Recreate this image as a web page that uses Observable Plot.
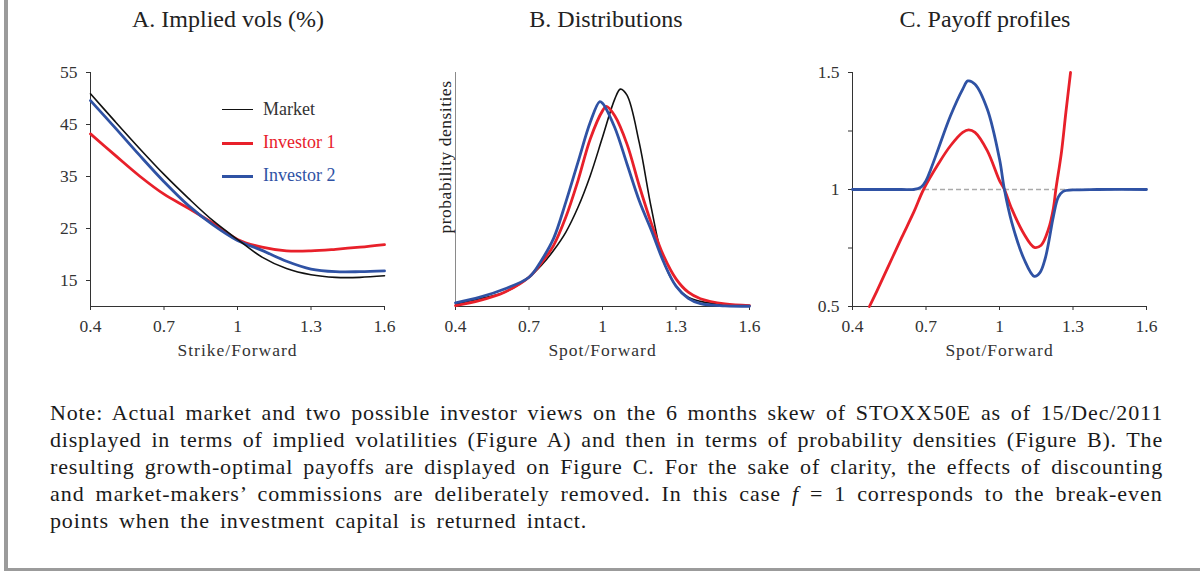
<!DOCTYPE html>
<html>
<head>
<meta charset="utf-8">
<script src="https://cdn.jsdelivr.net/npm/d3@7"></script>
<script src="https://cdn.jsdelivr.net/npm/@observablehq/plot@0.6"></script>
<style>
  html, body { margin: 0; padding: 0; background: #fff; }
  #fig { position: relative; width: 1200px; height: 571px; background: #fff; overflow: hidden;
         font-family: "Liberation Serif", "DejaVu Serif", serif; color: #222; }
  .bl { position: absolute; left: 4px; top: 0; width: 4px; height: 571px; background: #9b9b9b; }
  .bb { position: absolute; left: 4px; top: 568px; width: 1196px; height: 3px; background: #9b9b9b; }
  .title { position: absolute; top: 6px; font-size: 24px; transform: translateX(-50%); white-space: nowrap; color: #222; }
  .panel { position: absolute; top: 40px; }
  .panel svg g[aria-label="x-axis label"] text { letter-spacing: 1px; }
  .ylab { position: absolute; font-size: 17.5px; white-space: nowrap; transform: translate(-50%, -50%) rotate(-90deg); color: #222; letter-spacing: 0.5px; }
  .leg { position: absolute; font-size: 18px; white-space: nowrap; }
  .legline { position: absolute; height: 0; }
  #note { position: absolute; left: 50px; top: 399px; width: 1113px; font-family: "Liberation Serif", serif; font-size: 22px; line-height: 27px; color: #1a1a1a; }
  #note .ln { display: block; white-space: nowrap; }
  #note .ln span { white-space: nowrap; font-family: "Liberation Serif", serif; }
</style>
</head>
<body>
<div id="fig">
  <div class="bl"></div>
  <div class="bb"></div>
  <div class="title" style="left:228px">A. Implied vols (%)</div>
  <div class="title" style="left:606px">B. Distributions</div>
  <div class="title" style="left:985px">C. Payoff profiles</div>
  <div id="pA" class="panel" style="left:0px"></div>
  <div id="pB" class="panel" style="left:400px"></div>
  <div id="pC" class="panel" style="left:790px"></div>
  <div class="ylab" style="left:445px; top:157px">probability densities</div>
  <div id="legend"></div>
  <div id="note"></div>
</div>
<script>
// ---------- Data ----------
const xTicks = [0.4, 0.7, 1, 1.3, 1.6];
const yTicksA = [15, 25, 35, 45, 55];
const yTicksC = [0.5, 0.75, 1, 1.25, 1.5];
const yLabelsC = ["0.5", "", "1", "", "1.5"];

const seriesNames = ["Market", "Investor 1", "Investor 2"];
const seriesColors = ["#111111", "#e8202a", "#2f52a4"];

// Panel A: implied vols (%) vs Strike/Forward
const strikeA = [0.4, 0.5, 0.6, 0.7, 0.8, 0.9, 1.0, 1.1, 1.2, 1.3, 1.4, 1.5, 1.6];
const volMarket = [50.9, 45.6, 40.4, 35.4, 30.8, 26.5, 22.9, 19.5, 17.3, 16.1, 15.6, 15.6, 15.9];
const volInv1   = [43.2, 39.1, 35.1, 31.6, 28.9, 26.0, 22.9, 21.4, 20.7, 20.7, 21.0, 21.4, 21.9];
const volInv2   = [49.6, 44.4, 39.1, 34.0, 29.4, 25.7, 22.7, 20.8, 18.7, 17.2, 16.7, 16.7, 16.85];

// Panel B: probability densities (relative) vs Spot/Forward
const densMarketX = [0.4, 0.5, 0.6, 0.7, 0.75, 0.8, 0.85, 0.9, 0.95, 1.0, 1.05, 1.073, 1.1, 1.15, 1.2, 1.25, 1.3, 1.35, 1.4, 1.5, 1.6];
const densMarketY = [0.011, 0.033, 0.061, 0.125, 0.175, 0.239, 0.317, 0.424, 0.559, 0.723, 0.886, 0.929, 0.903, 0.70, 0.417, 0.19, 0.088, 0.040, 0.022, 0.008, 0.004];
const densInv1X = [0.4, 0.5, 0.6, 0.7, 0.75, 0.8, 0.85, 0.9, 0.95, 1.0, 1.016, 1.05, 1.1, 1.15, 1.2, 1.25, 1.3, 1.35, 1.4, 1.5, 1.6];
const densInv1Y = [0.004, 0.026, 0.061, 0.125, 0.185, 0.26, 0.381, 0.538, 0.716, 0.836, 0.855, 0.815, 0.694, 0.516, 0.353, 0.215, 0.118, 0.061, 0.033, 0.011, 0.004];
const densInv2X = [0.4, 0.5, 0.6, 0.7, 0.75, 0.8, 0.85, 0.9, 0.95, 0.988, 1.0, 1.05, 1.1, 1.15, 1.2, 1.25, 1.3, 1.35, 1.4, 1.5, 1.6];
const densInv2Y = [0.016, 0.040, 0.075, 0.125, 0.196, 0.29, 0.445, 0.617, 0.787, 0.875, 0.869, 0.765, 0.609, 0.452, 0.324, 0.189, 0.087, 0.035, 0.012, 0.003, 0.001];

// Panel C: payoff profiles vs Spot/Forward
const breakEven = 1;
const payInv1X = [0.469, 0.5, 0.55, 0.6, 0.65, 0.69, 0.75, 0.8, 0.85, 0.874, 0.9, 0.95, 1.0, 1.02, 1.05, 1.1, 1.142, 1.17, 1.2, 1.22, 1.23, 1.253, 1.271, 1.29];
const payInv1Y = [0.5, 0.567, 0.68, 0.793, 0.903, 1.0, 1.109, 1.187, 1.244, 1.255, 1.244, 1.166, 1.038, 1.0, 0.917, 0.81, 0.753, 0.762, 0.831, 0.92, 1.0, 1.16, 1.33, 1.5];
const payInv2X = [0.4, 0.6, 0.65, 0.68, 0.7, 0.72, 0.75, 0.8, 0.85, 0.871, 0.9, 0.95, 1.0, 1.02, 1.05, 1.1, 1.142, 1.165, 1.186, 1.2, 1.22, 1.24, 1.26, 1.3, 1.4, 1.6];
const payInv2Y = [1.0, 1.0, 1.0, 1.01, 1.038, 1.088, 1.173, 1.315, 1.429, 1.464, 1.45, 1.344, 1.13, 1.0, 0.86, 0.703, 0.629, 0.645, 0.703, 0.77, 0.885, 0.967, 0.992, 0.998, 1.0, 1.0];

const noteLines = [
  "Note: Actual market and two possible investor views on the 6 months skew of STOXX50E as of 15/Dec/2011",
  "displayed in terms of implied volatilities (Figure A) and then in terms of probability densities (Figure B). The",
  "resulting growth-optimal payoffs are displayed on Figure C. For the sake of clarity, the effects of discounting",
  "and market-makers\u2019 commissions are deliberately removed.  In this case <i>f</i> = 1 corresponds to the break-even",
  "points when the investment capital is returned intact."
];

// ---------- Helpers ----------
const pts = (xs, ys) => xs.map((x, i) => ({x, y: ys[i]}));
const fmt = d => String(d);
const baseStyle = {fontFamily: "'Liberation Serif', 'DejaVu Serif', serif", fontSize: "17.5px", color: "#333", background: "transparent", overflow: "visible"};
const common = {width: 400, height: 330, marginTop: 32, marginBottom: 64};
const axX = (label) => Plot.axisX({ticks: xTicks, tickFormat: fmt, tickSize: 4, tickPadding: 9, fontSize: 17.5,
  label, labelAnchor: "center", labelOffset: 49, labelArrow: "none"});
const axY = (ticks, tickFormat) => Plot.axisY({ticks, tickFormat, tickSize: 4, tickPadding: 9, fontSize: 17.5, label: null});

// ---------- Panel A ----------
const plotA = Plot.plot({
  ...common, marginLeft: 90, marginRight: 16, style: baseStyle,
  x: {domain: [0.4, 1.6]},
  y: {domain: [10, 55]},
  marks: [
    axX("Strike/Forward"),
    axY(yTicksA, fmt),
    Plot.ruleX([0.4], {stroke: "#333"}),
    Plot.ruleY([10], {stroke: "#333"}),
    Plot.line(pts(strikeA, volInv1), {x: "x", y: "y", stroke: seriesColors[1], strokeWidth: 2.8, curve: "catmull-rom"}),
    Plot.line(pts(strikeA, volInv2), {x: "x", y: "y", stroke: seriesColors[2], strokeWidth: 2.8, curve: "catmull-rom"}),
    Plot.line(pts(strikeA, volMarket), {x: "x", y: "y", stroke: seriesColors[0], strokeWidth: 1.6, curve: "catmull-rom"})
  ]
});
document.getElementById("pA").appendChild(plotA);

// ---------- Panel B ----------
const plotB = Plot.plot({
  ...common, marginLeft: 55, marginRight: 51, style: baseStyle,
  x: {domain: [0.4, 1.6]},
  y: {domain: [0, 1], axis: null},
  marks: [
    axX("Spot/Forward"),
    Plot.ruleX([0.4], {stroke: "#8a8a8a"}),
    Plot.ruleY([0], {stroke: "#333"}),
    Plot.line(pts(densMarketX, densMarketY), {x: "x", y: "y", stroke: seriesColors[0], strokeWidth: 1.6, curve: "catmull-rom"}),
    Plot.line(pts(densInv1X, densInv1Y), {x: "x", y: "y", stroke: seriesColors[1], strokeWidth: 2.8, curve: "catmull-rom"}),
    Plot.line(pts(densInv2X, densInv2Y), {x: "x", y: "y", stroke: seriesColors[2], strokeWidth: 2.8, curve: "catmull-rom"})
  ]
});
document.getElementById("pB").appendChild(plotB);

// ---------- Panel C ----------
const plotC = Plot.plot({
  ...common, marginLeft: 62, marginRight: 44, style: baseStyle,
  x: {domain: [0.4, 1.6]},
  y: {domain: [0.5, 1.5]},
  marks: [
    axX("Spot/Forward"),
    axY(yTicksC, d => yLabelsC[yTicksC.indexOf(d)]),
    Plot.ruleX([0.4], {stroke: "#333"}),
    Plot.ruleY([0.5], {stroke: "#333"}),
    Plot.ruleY([breakEven], {stroke: "#aaaaaa", strokeWidth: 1.3, strokeDasharray: "5,3"}),
    Plot.line(pts(payInv1X, payInv1Y), {x: "x", y: "y", stroke: seriesColors[1], strokeWidth: 2.8, curve: "catmull-rom"}),
    Plot.line(pts(payInv2X, payInv2Y), {x: "x", y: "y", stroke: seriesColors[2], strokeWidth: 2.8, curve: "catmull-rom"})
  ]
});
document.getElementById("pC").appendChild(plotC);

// ---------- Legend (panel A) ----------
const legend = document.getElementById("legend");
const legY = [110, 143, 176];
const legW = [1.6, 3, 3];
seriesNames.forEach((name, i) => {
  const ln = document.createElement("div");
  ln.className = "legline";
  ln.style.cssText = `left:222px; width:31px; top:${legY[i] - legW[i] / 2}px; border-top:${legW[i]}px solid ${seriesColors[i]};`;
  legend.appendChild(ln);
  const tx = document.createElement("div");
  tx.className = "leg";
  tx.textContent = name;
  tx.style.cssText = `left:263px; top:${legY[i] - 11}px; color:${i === 0 ? "#333" : seriesColors[i]};`;
  legend.appendChild(tx);
});

// ---------- Note (each line justified to the full width, TeX-like) ----------
const note = document.getElementById("note");
const target = 1113;
const spans = [];
noteLines.forEach((txt) => {
  const ln = document.createElement("div");
  ln.className = "ln";
  const sp = document.createElement("span");
  sp.innerHTML = txt;
  ln.appendChild(sp);
  note.appendChild(ln);
  spans.push(sp);
});
let lsSum = 0, wsSum = 0;
spans.forEach((sp, i) => {
  if (i === spans.length - 1) return;
  const w = sp.getBoundingClientRect().width;
  const txt = sp.textContent;
  const nSpaces = (txt.match(/ /g) || []).length;
  const extra = target - w;
  const ls = (extra * 0.6) / txt.length;
  const ws = (extra * 0.4) / Math.max(1, nSpaces);
  sp.style.letterSpacing = ls + "px";
  sp.style.wordSpacing = ws + "px";
  const w2 = sp.getBoundingClientRect().width;
  sp.style.wordSpacing = (ws + (target - w2) / Math.max(1, nSpaces)) + "px";
  lsSum += ls; wsSum += ws;
});
const last = spans[spans.length - 1];
last.style.letterSpacing = (lsSum / (spans.length - 1)) + "px";
last.style.wordSpacing = (wsSum / (spans.length - 1)) + "px";
</script>
</body>
</html>
